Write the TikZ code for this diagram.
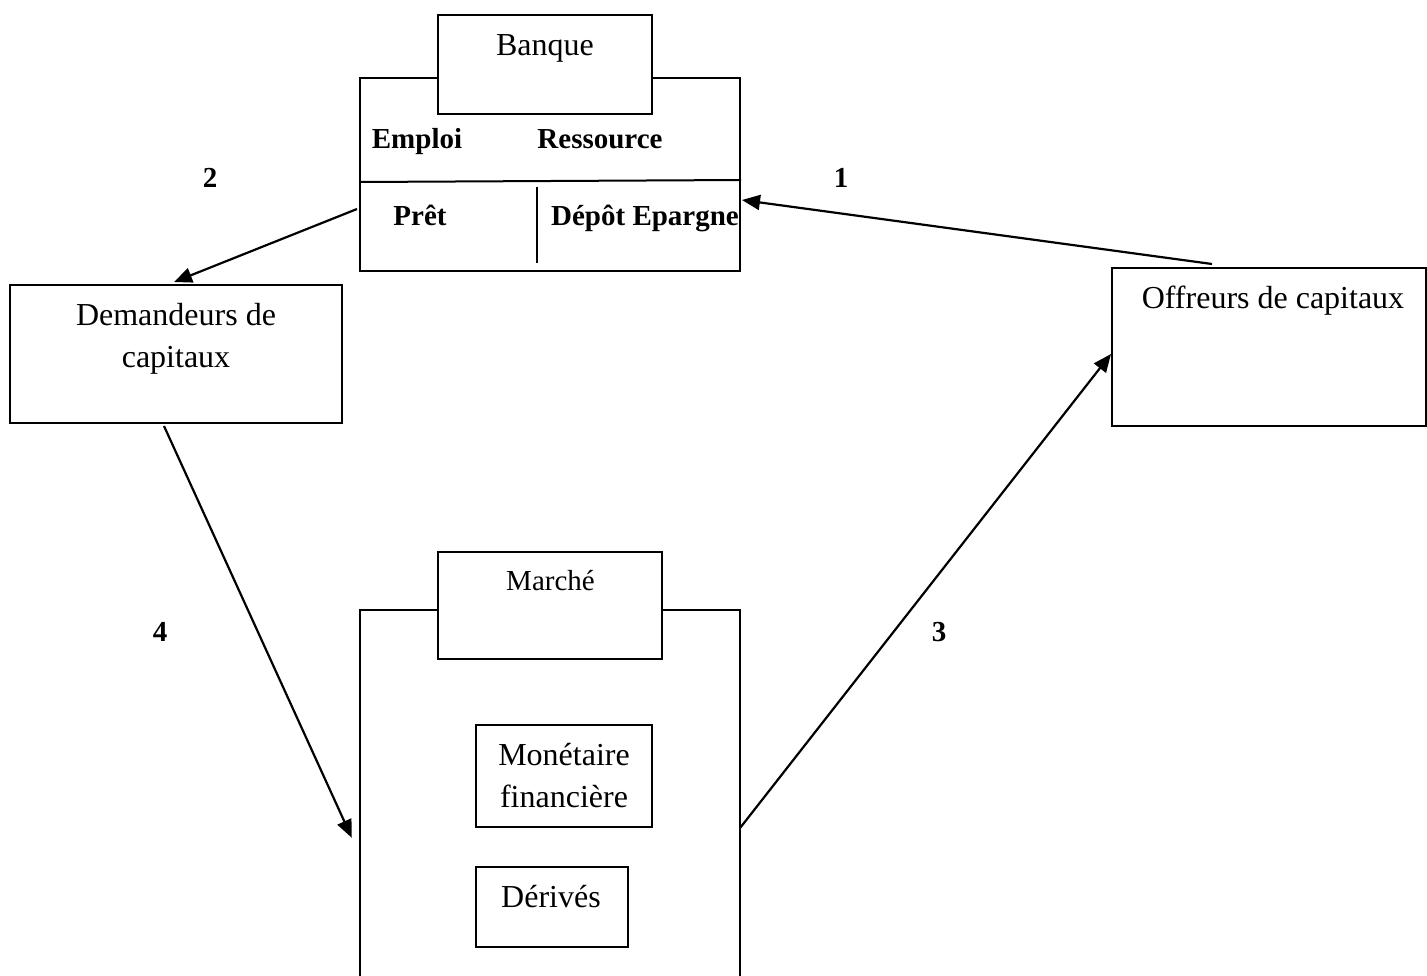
\documentclass[tikz,border=0pt]{standalone}
\usepackage{fontspec}
\setmainfont{Liberation Serif}
\usetikzlibrary{arrows.meta,calc}
\begin{document}
\begin{tikzpicture}[x=1pt,y=-1pt,
  box/.style={draw,line width=2pt,rectangle,inner sep=0pt},
  rule/.style={line width=2pt},
  frame/.style={rectangle,inner sep=0pt},
  txt/.style={font=\fontsize{32}{42}\selectfont,inner sep=0pt,align=center,anchor=base},
  btxt/.style={font=\fontsize{29}{34}\selectfont\bfseries,inner sep=0pt,anchor=base},
  stxt/.style={font=\fontsize{29}{34}\selectfont,inner sep=0pt,anchor=base},
  flow/.style={line width=2.2pt,-{Triangle[length=18pt,width=15pt]}}]
\useasboundingbox (0,0) rectangle (1427,975);

% Banque: outer frame with title box on its top edge
\node[box,minimum width=380pt,minimum height=193pt] (banque) at (550,174.5) {};
\node[box,fill=white,minimum width=214pt,minimum height=99pt] (banquetitle) at (545,64.5) {};
\node[txt] (banquelbl) at (545,55) {Banque};
\draw[rule] ($(banque.north west)+(0,105)$) -- ($(banque.north east)+(0,103)$);
\draw[rule] (537,187) -- (537,263);
\node[btxt] (emploi) at (417,148) {Emploi};
\node[btxt] (ressource) at (600,148) {Ressource};
\node[btxt] (pret) at (420,225) {Prêt};
\node[btxt] (depot) at (645,225) {Dépôt Epargne};

% Demandeurs / Offreurs (base anchor sits on the last line)
\node[box,minimum width=332pt,minimum height=138pt] (dem) at (176,354) {};
\node[txt] (demlbl) at (176,367) {Demandeurs de\\capitaux};
\node[box,minimum width=314pt,minimum height=158pt] (off) at (1269,347) {};
\node[txt] (offlbl) at (1273,308) {Offreurs de capitaux};

% Marché: frame open at the bottom, title box and inner boxes
\node[frame,minimum width=380pt,minimum height=380pt] (marche) at (550,800) {};
\draw[rule] (marche.south west) -- (marche.north west) -- (marche.north east) -- (marche.south east);
\node[box,fill=white,minimum width=224pt,minimum height=107pt] (marchetitle) at (550,605.5) {};
\node[stxt] (marchelbl) at (550.5,590) {Marché};
\node[box,minimum width=176pt,minimum height=102pt] (mon) at (564,776) {};
\node[txt] (monlbl) at (564,807) {Monétaire\\financière};
\node[box,minimum width=152pt,minimum height=80pt] (der) at (552,907) {};
\node[txt] (derlbl) at (551,907) {Dérivés};

% Flow end points
\coordinate (a1s) at ($(off.north west)+(101,-3)$);
\coordinate (a1e) at ($(banque.north east)+(1,123)$);
\coordinate (a2s) at ($(banque.north west)+(-2,132)$);
\coordinate (a2e) at ($(dem.north west)+(165,-2)$);
\coordinate (a3s) at ($(marche.north east)+(0,218)$);
\coordinate (a3e) at ($(off.north west)+(0,87)$);
\coordinate (a4s) at ($(dem.south west)+(155,2)$);
\coordinate (a4e) at ($(marche.north west)+(-8,228)$);

\draw[flow] (a1s) -- (a1e);
\draw[flow] (a2s) -- (a2e);
\draw[flow] (a3s) -- (a3e);
\draw[flow] (a4s) -- (a4e);

% Flow numbers
\node[btxt] (n1) at (841,187) {1};
\node[btxt] (n2) at (210,187) {2};
\node[btxt] (n3) at (939,641) {3};
\node[btxt] (n4) at (160,641) {4};
\end{tikzpicture}
\end{document}
